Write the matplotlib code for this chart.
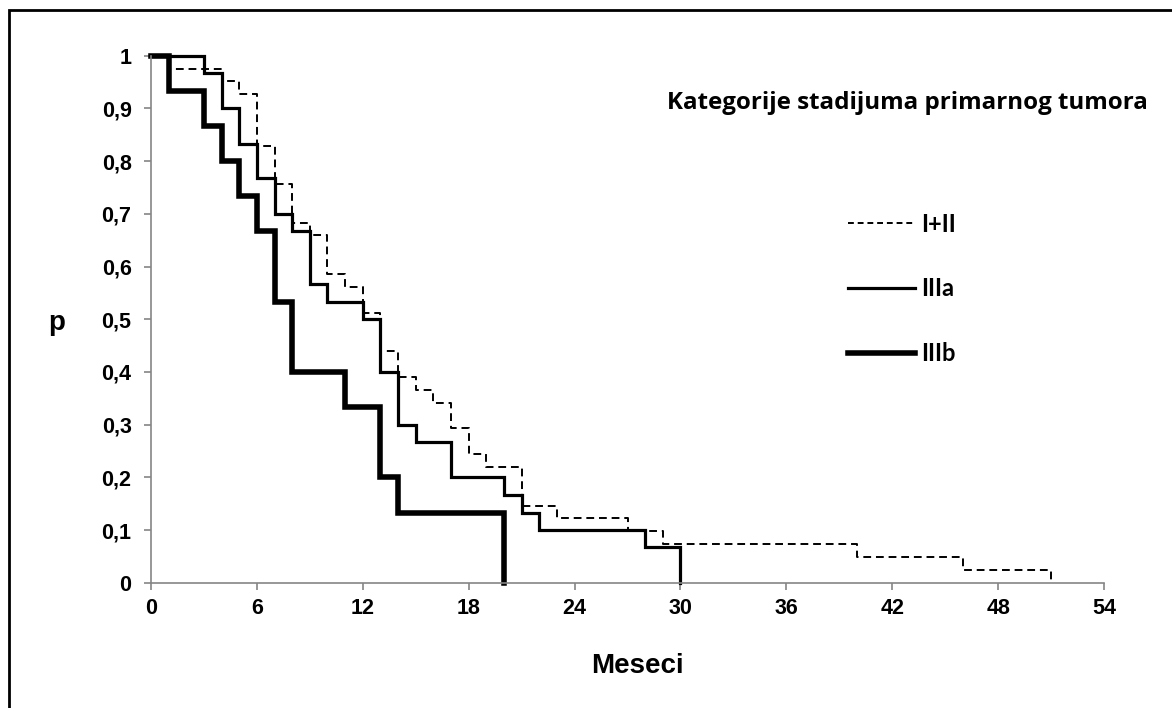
import matplotlib
matplotlib.use("Agg")
import matplotlib.pyplot as plt
from matplotlib.lines import Line2D
from matplotlib.patches import Rectangle

# Kaplan-Meier steps (months, survival p)
t_12 = [0, 1, 4, 5, 6, 7, 8, 9, 10, 11, 12, 13, 14, 15, 16, 17, 18, 19, 21, 23, 27, 29, 40, 46, 51]
p_12 = [1, 0.975, 0.952, 0.928, 0.829, 0.756, 0.683, 0.659, 0.585, 0.561, 0.512, 0.439,
        0.390, 0.366, 0.341, 0.293, 0.244, 0.220, 0.146, 0.122, 0.098, 0.073, 0.049, 0.024, 0]

t_3a = [0, 3, 4, 5, 6, 7, 8, 9, 10, 12, 13, 14, 15, 17, 20, 21, 22, 28, 30]
p_3a = [1, 0.967, 0.9, 0.833, 0.767, 0.7, 0.667, 0.567, 0.533, 0.5, 0.4, 0.3, 0.267,
        0.2, 0.167, 0.133, 0.1, 0.067, 0]

t_3b = [0, 1, 3, 4, 5, 6, 7, 8, 11, 13, 14, 20]
p_3b = [1, 0.933, 0.867, 0.8, 0.733, 0.667, 0.533, 0.4, 0.333, 0.2, 0.133, 0]

labels = ['I+II', 'IIIa', 'IIIb']
legend_title = 'Kategorije stadijuma primarnog tumora'
xticks = [0, 6, 12, 18, 24, 30, 36, 42, 48, 54]
yticks = [0, 0.1, 0.2, 0.3, 0.4, 0.5, 0.6, 0.7, 0.8, 0.9, 1]
ytick_labels = ['0', '0,1', '0,2', '0,3', '0,4', '0,5', '0,6', '0,7', '0,8', '0,9', '1']

W, H = 1172, 708
fig = plt.figure(figsize=(W / 100, H / 100), dpi=100)
ax = fig.add_axes([151 / W, 1 - 582.7 / H, (1104 - 151) / W, (582.7 - 55.7) / H])

# outer frame (only left and top are inside the picture)
fig.add_artist(Rectangle((8.7 / W, -0.1), 1.2, 1 - 9.7 / H + 0.1, transform=fig.transFigure,
                         fill=False, edgecolor='black', linewidth=2))

ax.step(t_12, p_12, where='post', color='black', lw=1.4, linestyle=(0, (4, 2.5)), clip_on=False)
ax.step(t_3a, p_3a, where='post', color='black', lw=2.3, clip_on=False, solid_joinstyle='miter')
ax.step(t_3b, p_3b, where='post', color='black', lw=4.0, clip_on=False, solid_joinstyle='miter')

ax.set_xlim(0, 54)
ax.set_ylim(0, 1)
ax.set_xticks(xticks)
ax.set_yticks(yticks)
ax.set_yticklabels(ytick_labels)

for s in ['top', 'right']:
    ax.spines[s].set_visible(False)
for s in ['left', 'bottom']:
    ax.spines[s].set_color('#858585')
    ax.spines[s].set_linewidth(1.2)
ax.tick_params(axis='both', direction='out', length=5, width=1.2, color='#858585')
ax.tick_params(axis='y', pad=9)
ax.tick_params(axis='x', pad=6)
for lab in ax.get_xticklabels() + ax.get_yticklabels():
    lab.set_fontfamily('Liberation Sans')
    lab.set_fontweight('bold')
    lab.set_fontsize(15.5)

fig.text(637 / W, 1 - 673 / H, 'Meseci', family='Liberation Sans', weight='bold',
         fontsize=20, ha='center', va='baseline')
fig.text(48 / W, 1 - 330 / H, 'p', family='Liberation Sans', weight='bold',
         fontsize=20, ha='left', va='baseline')

# legend drawn by hand
fig.text(667 / W, 1 - 109.3 / H, legend_title, family='Open Sans', weight='bold',
         fontsize=17.4, ha='left', va='baseline')
leg_styles = [dict(lw=1.4, linestyle=(0, (3, 2))), dict(lw=2.3), dict(lw=4.0)]
leg_y = [223.3, 288.3, 353.3]
leg_base = [231.7, 296, 361]
for lab, st, y, yb in zip(labels, leg_styles, leg_y, leg_base):
    fig.add_artist(Line2D([848 / W, 915 / W], [1 - y / H, 1 - y / H], color='black',
                          transform=fig.transFigure, **st))
    fig.text(921 / W, 1 - yb / H, lab, family='Lato', weight='bold', fontsize=17,
             ha='left', va='baseline')

fig.savefig('out.png', dpi=100)
